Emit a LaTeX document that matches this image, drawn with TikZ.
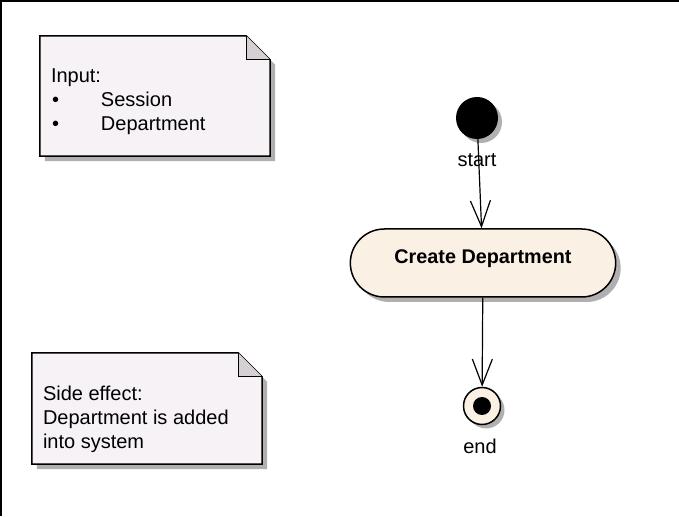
\documentclass[tikz,border=0pt]{standalone}
\usepackage{fontspec}
\setmainfont{Liberation Sans}
\usetikzlibrary{arrows.meta,shadows,shapes.misc,positioning}
\definecolor{NoteFill}{RGB}{246,242,246}
\definecolor{FoldFill}{RGB}{212,208,212}
\definecolor{ShadowGray}{RGB}{176,176,176}
\definecolor{ActFill}{RGB}{250,240,228}

% note paper with folded corner, drawn round an empty node
\newcommand{\notepaper}[1]{%
  \fill[ShadowGray] ([shift={(5,-5)}]#1.south west) -- ([shift={(5,-5)}]#1.south east)
    -- ([shift={(5,-29)}]#1.north east) -- ([shift={(-19,-5)}]#1.north east)
    -- ([shift={(5,-5)}]#1.north west) -- cycle;
  \draw[fill=NoteFill, line width=1.5pt] (#1.south west) -- (#1.south east)
    -- ([yshift=-24]#1.north east) -- ([xshift=-24]#1.north east)
    -- (#1.north west) -- cycle;
  \draw[fill=FoldFill, line width=1.2pt] ([xshift=-24]#1.north east)
    -- ([shift={(-24,-24)}]#1.north east) -- ([yshift=-24]#1.north east);
}

\begin{document}
\begin{tikzpicture}[
    x=1pt, y=1pt,
    notearea/.style={inner sep=0pt},
    notetext/.style={align=left, inner sep=0pt, font=\fontsize{20}{24}\selectfont},
    statelabel/.style={inner sep=0pt, font=\fontsize{20}{24}\selectfont},
    activity/.style={
      rounded rectangle,
      draw,
      line width=1.5pt,
      fill=ActFill,
      minimum width=272,
      minimum height=68,
      text height=14pt,
      text depth=12pt,
      font=\fontsize{19.8}{22}\selectfont\bfseries,
      drop shadow={shadow xshift=5pt, shadow yshift=-5pt, fill=ShadowGray, opacity=1}
    },
    initialdot/.style={
      circle, fill=black, minimum size=42, inner sep=0pt,
      drop shadow={shadow xshift=4pt, shadow yshift=-4pt, fill=ShadowGray, opacity=1}
    },
    finaldot/.style={
      circle, draw, line width=1.5pt, fill=ActFill, minimum size=37, inner sep=0pt,
      drop shadow={shadow xshift=4pt, shadow yshift=-4pt, fill=ShadowGray, opacity=1},
      path picture={\fill[black] (path picture bounding box.center) circle (9);}
    },
    flow/.style={-{Straight Barb[length=26pt, width=20pt, line width=1.2pt]}, line width=1.2pt}
  ]
  \useasboundingbox (0,0) rectangle (679,516);
  \draw[line width=2pt] (1,0) -- (1,515) -- (679,515);

  % notes (base anchor sits on the last line)
  \node[notearea, minimum width=230, minimum height=120] (inputnote) at (155,420) {};
  \notepaper{inputnote}
  \node[notetext, anchor=base west] (inputtext) at ([shift={(11,-95.2)}]inputnote.north west)
    {Input:\\\makebox[50pt][l]{\hspace{1pt}\textbullet}Session\\\makebox[50pt][l]{\hspace{1pt}\textbullet}Department};

  \node[notearea, minimum width=230, minimum height=111] (effectnote) at (147,107.5) {};
  \notepaper{effectnote}
  \node[notetext, anchor=base west] (effecttext) at ([shift={(11,-96.2)}]effectnote.north west)
    {Side effect:\\Department is added\\into system};

  % activity flow
  \node[initialdot] (startdot) at (477,398) {};
  \node[statelabel] (startlabel) at (477,356) {start};
  \node[activity] (createdept) at (483,253) {Create Department};
  \node[finaldot] (enddot) at (482,110) {};
  \node[statelabel] (endlabel) at (480,70) {end};

  \draw[flow] (startdot) -- (createdept);
  \draw[flow] (createdept) -- (enddot);
\end{tikzpicture}
\end{document}
